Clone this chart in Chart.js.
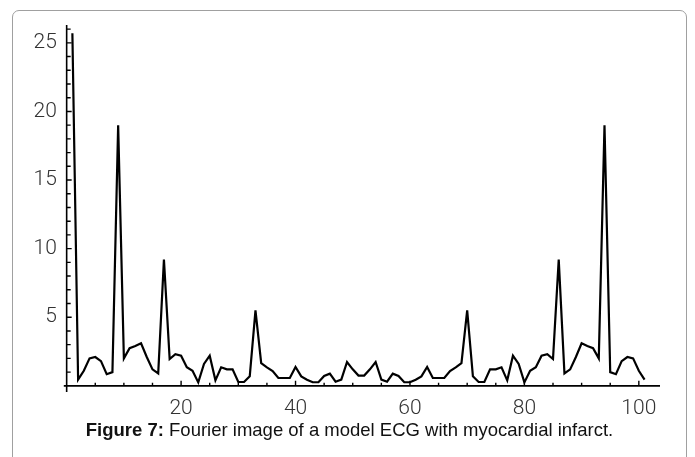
<!DOCTYPE html>
<html>
<head>
<meta charset="utf-8">
<script src="https://cdn.jsdelivr.net/npm/chart.js@4.4.0/dist/chart.umd.min.js"></script>
<style>
  body { margin: 0; background: #fff; width: 695px; height: 457px; overflow: hidden; position: relative; }
  #frame { position: absolute; left: 12px; top: 10px; width: 673px; height: 470px; border: 1px solid #a0a0a0; border-radius: 7px; }
  #wrap { position: absolute; left: 0; top: 0; width: 695px; height: 457px; }
  #caption { position: absolute; left: 12px; width: 675px; top: 419px; text-align: center;
             font-family: 'Liberation Sans', Arial, sans-serif; font-size: 18.5px; color: #111; }
</style>
</head>
<body>
<div id="frame"></div>
<div id="wrap"><canvas id="fourierChart" width="695" height="457"></canvas></div>
<div id="caption"><b>Figure 7:</b> Fourier image of a model ECG with myocardial infarct.</div>
<script>
  // Fourier magnitudes, index 1..101
  const magnitudes = [
    25.7, 0.45, 1.1, 2.0, 2.1, 1.8, 0.85, 1.0, 19.0, 2.0,
    2.75, 2.9, 3.1, 2.1, 1.2, 0.9, 9.2, 1.95, 2.3, 2.2,
    1.35, 1.1, 0.25, 1.6, 2.2, 0.4, 1.35, 1.2, 1.2, 0.28,
    0.28, 0.7, 5.5, 1.65, 1.35, 1.08, 0.57, 0.57, 0.57, 1.37,
    0.69, 0.45, 0.26, 0.26, 0.72, 0.89, 0.3, 0.45, 1.74, 1.2,
    0.75,
    0.75, 1.2, 1.74, 0.45, 0.3, 0.89, 0.72, 0.26, 0.26, 0.45,
    0.69, 1.37, 0.57, 0.57, 0.57, 1.08, 1.35, 1.65, 5.5, 0.7,
    0.28, 0.28, 1.2, 1.2, 1.35, 0.4, 2.2, 1.6, 0.25, 1.1,
    1.35, 2.2, 2.3, 1.95, 9.2, 0.9, 1.2, 2.1, 3.1, 2.9,
    2.75, 2.0, 19.0, 1.0, 0.85, 1.8, 2.1, 2.0, 1.1, 0.45
  ];
  const xTicks = [20, 40, 60, 80, 100];
  const yTicks = [5, 10, 15, 20, 25];
  const xMinorStep = 5;
  const yMinorStep = 1;

  const points = magnitudes.map((v, i) => ({ x: i + 1, y: v }));

  // Mathematica-style axes crossing at the origin, ticks pointing inward
  const originAxes = {
    id: 'originAxes',
    beforeDatasetsDraw(chart) {
      const { ctx, scales: { x, y } } = chart;
      const x0 = x.getPixelForValue(0);
      const y0 = y.getPixelForValue(0);
      ctx.save();
      ctx.strokeStyle = '#000';
      ctx.lineWidth = 1.6;
      ctx.beginPath();
      ctx.moveTo(x0, y.getPixelForValue(y.min));
      ctx.lineTo(x0, y.getPixelForValue(y.max));
      ctx.moveTo(x.getPixelForValue(x.min), y0);
      ctx.lineTo(x.getPixelForValue(x.max), y0);
      ctx.stroke();

      ctx.lineWidth = 1.4;
      ctx.beginPath();
      for (let v = xMinorStep; v <= x.max; v += xMinorStep) {
        const px = x.getPixelForValue(v);
        const len = xTicks.includes(v) ? 5 : 3;
        ctx.moveTo(px, y0);
        ctx.lineTo(px, y0 - len);
      }
      for (let v = yMinorStep; v <= y.max; v += yMinorStep) {
        const py = y.getPixelForValue(v);
        const len = yTicks.includes(v) ? 5 : 4;
        ctx.moveTo(x0, py);
        ctx.lineTo(x0 + len, py);
      }
      ctx.stroke();
      ctx.restore();
    }
  };

  const tickFont = { family: 'Roboto', size: 21, weight: 300 };

  new Chart(document.getElementById('fourierChart'), {
    type: 'line',
    data: {
      datasets: [{
        data: points,
        borderColor: '#000',
        borderWidth: 2.2,
        borderJoinStyle: 'miter',
        pointRadius: 0,
        tension: 0,
        fill: false
      }]
    },
    options: {
      responsive: false,
      animation: false,
      layout: { padding: { left: 0, top: 25, right: 35, bottom: 35 } },
      plugins: { legend: { display: false }, tooltip: { enabled: false } },
      scales: {
        x: {
          type: 'linear',
          min: -0.5,
          max: 103.7,
          grid: { display: false, drawTicks: false },
          border: { display: false },
          afterBuildTicks: s => { s.ticks = xTicks.map(v => ({ value: v })); },
          afterFit: s => { s.height = 30; },
          ticks: {
            padding: 4,
            maxRotation: 0,
            font: tickFont,
            color: '#333'
          }
        },
        y: {
          min: -0.45,
          max: 26.3,
          grid: { display: false, drawTicks: false },
          border: { display: false },
          afterBuildTicks: s => { s.ticks = yTicks.map(v => ({ value: v })); },
          afterFit: s => { s.width = 63.8; },
          ticks: {
            padding: 7,
            font: tickFont,
            color: '#333'
          }
        }
      }
    },
    plugins: [originAxes]
  });
</script>
</body>
</html>
